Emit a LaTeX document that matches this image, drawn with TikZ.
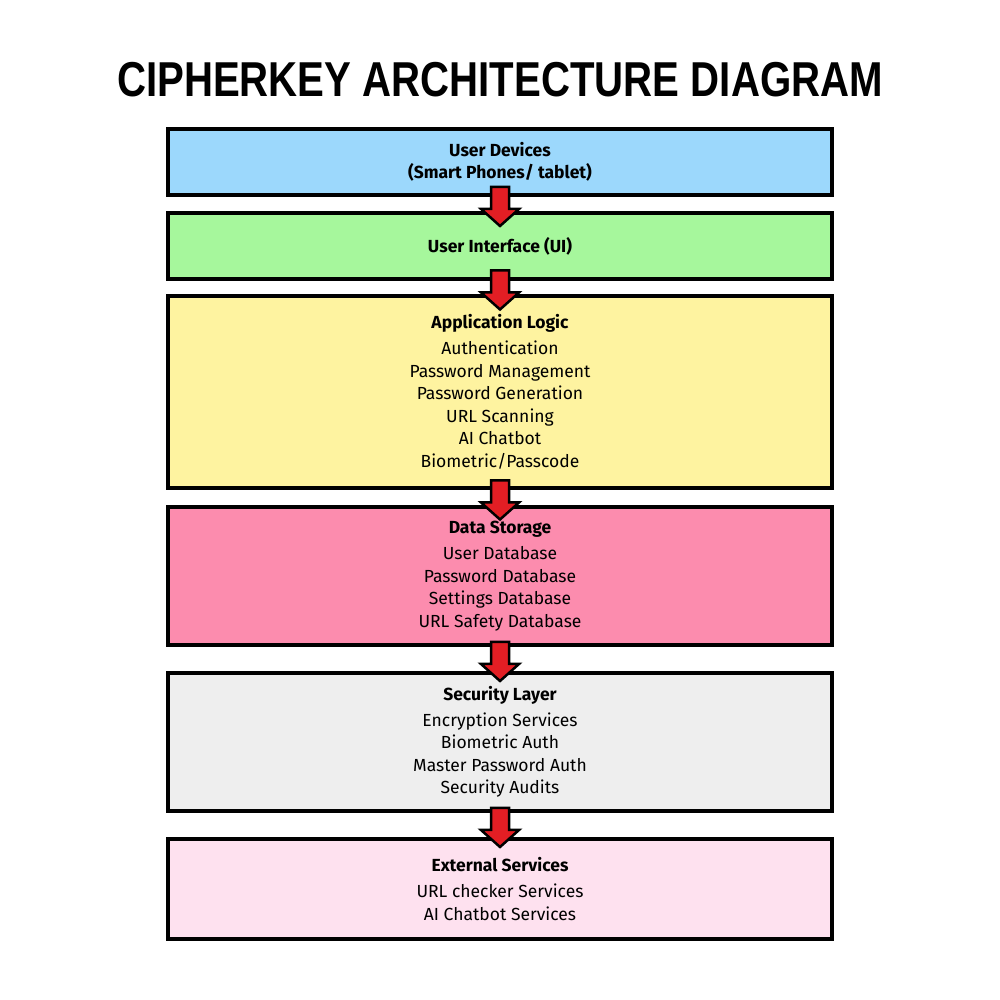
\documentclass[tikz,border=0pt]{standalone}
\usepackage{fontspec}
\setmainfont{Fira Sans}
\newfontfamily\titlefont[FakeStretch=0.82]{Liberation Sans}
\usetikzlibrary{positioning, calc}

\definecolor{devblue}{HTML}{9CD8FC}
\definecolor{uigreen}{HTML}{A6F79C}
\definecolor{logicyellow}{HTML}{FEF3A0}
\definecolor{storepink}{HTML}{FC8CAE}
\definecolor{secgray}{HTML}{EEEEEE}
\definecolor{extpink}{HTML}{FEE1EF}
\definecolor{arrowred}{HTML}{E31E24}

\begin{document}
\begin{tikzpicture}[x=1pt, y=1pt, line join=miter]
	
	% Styles
	\tikzset{
		layer/.style={draw=black, line width=4pt, minimum width=664pt, align=center,
			font={\fontsize{17.5}{22.5}\selectfont}},
		flow/.pic={
			\draw[line width=2.5pt, fill=arrowred]
			(-9,17) -- (9,17) -- (9,-5) -- (19,-5) -- (0,-22) -- (-19,-5) -- (-9,-5) -- cycle;
		}
	}
	
	\useasboundingbox (0,0) rectangle (1000,1000);
	
	%======================
	% TITLE
	%======================
	\node[font={\titlefont\bfseries\fontsize{49}{49}\selectfont}] (title) at (500,920) {CIPHERKEY ARCHITECTURE DIAGRAM};
	
	%======================
	% LAYERS (top to bottom)
	%======================
	\node[layer, fill=devblue, minimum height=66pt, font={\fontsize{17.5}{22}\selectfont\bfseries}] (dev) at (500,838)
	{User Devices\\(Smart Phones/ tablet)};
	
	\node[layer, fill=uigreen, minimum height=66pt, below=14pt of dev] (ui)
	{\textbf{User Interface (UI)}};
	
	\node[layer, fill=logicyellow, minimum height=192pt, below=13pt of ui] (logic)
	{\textbf{Application Logic}\\[3.5pt] Authentication\\ Password Management\\ Password Generation\\
		URL Scanning\\ AI Chatbot\\ Biometric/Passcode};
	
	\node[layer, fill=storepink, minimum height=138pt, below=15pt of logic] (store)
	{\textbf{Data Storage}\\[3.5pt] User Database\\ Password Database\\ Settings Database\\ URL Safety Database};
	
	\node[layer, fill=secgray, minimum height=138pt, below=24pt of store] (sec)
	{\textbf{Security Layer}\\[3.5pt] Encryption Services\\ Biometric Auth\\ Master Password Auth\\ Security Audits};
	
	\node[layer, fill=extpink, minimum height=100pt, below=24pt of sec] (ext)
	{\textbf{External Services}\\[3.5pt] URL checker Services\\ AI Chatbot Services};
	
	%======================
	% FLOW ARROWS (drawn on top of the boxes)
	%======================
	\path (dev.south) -- (ui.north) pic[pos=0.5] {flow};
	\path (ui.south) -- (logic.north) pic[pos=0.5] {flow};
	\path (logic.south) -- (store.north) pic[pos=0.5] {flow};
	\path (store.south) -- (sec.north) pic[pos=0.5] {flow};
	\path (sec.south) -- (ext.north) pic[pos=0.5] {flow};
\end{tikzpicture}
\end{document}
